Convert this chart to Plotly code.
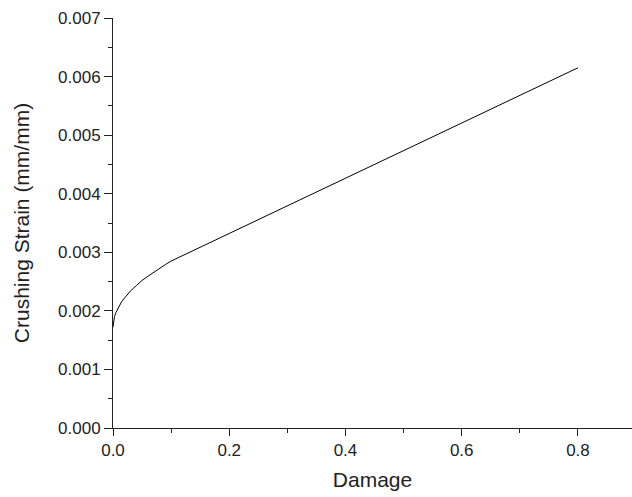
import plotly.graph_objects as go

damage = [0.0, 0.0025, 0.005, 0.01, 0.015, 0.02, 0.03, 0.04, 0.05, 0.06, 0.07, 0.08, 0.09, 0.1, 0.8]
strain = [0.00172, 0.00190, 0.00197, 0.00208, 0.00216, 0.00222, 0.00234, 0.00243, 0.00252,
          0.00259, 0.00266, 0.00273, 0.00279, 0.00285, 0.00615]

x_ticks = [0.0, 0.2, 0.4, 0.6, 0.8]
x_labels = ["0.0", "0.2", "0.4", "0.6", "0.8"]
y_ticks = [0.000, 0.001, 0.002, 0.003, 0.004, 0.005, 0.006, 0.007]
y_labels = ["0.000", "0.001", "0.002", "0.003", "0.004", "0.005", "0.006", "0.007"]

fig = go.Figure()
fig.add_trace(go.Scatter(x=damage, y=strain, mode="lines",
                         line=dict(color="black", width=1),
                         showlegend=False))

font = dict(family="Liberation Sans, Arial, sans-serif", color="#222")
fig.update_layout(
    width=632, height=497,
    margin=dict(l=113, r=0, t=18, b=69, autoexpand=False),
    paper_bgcolor="white", plot_bgcolor="white",
    font=dict(size=17, **font),
    xaxis=dict(range=[0, 0.893], tickvals=x_ticks, ticktext=x_labels, automargin=False,
               showline=True, linecolor="#222", linewidth=1, showgrid=False, zeroline=False,
               ticks="outside", ticklen=7, tickcolor="#222",
               minor=dict(ticks="outside", ticklen=4, dtick=0.1, tickcolor="#222"),
               title=dict(text="Damage", font=dict(size=21), standoff=12)),
    yaxis=dict(range=[0, 0.007], tickvals=y_ticks, ticktext=y_labels, automargin=False,
               showline=True, linecolor="#222", linewidth=1, showgrid=False, zeroline=False,
               ticks="outside", ticklen=8, tickcolor="#222",
               minor=dict(ticks="outside", ticklen=4, dtick=0.0005, tickcolor="#222"),
               title=dict(text="Crushing Strain (mm/mm)", font=dict(size=21), standoff=22)),
)

fig.write_html("out.html", config={"displayModeBar": False},
               post_script="document.body.style.margin='0';document.body.style.overflow='hidden';")
